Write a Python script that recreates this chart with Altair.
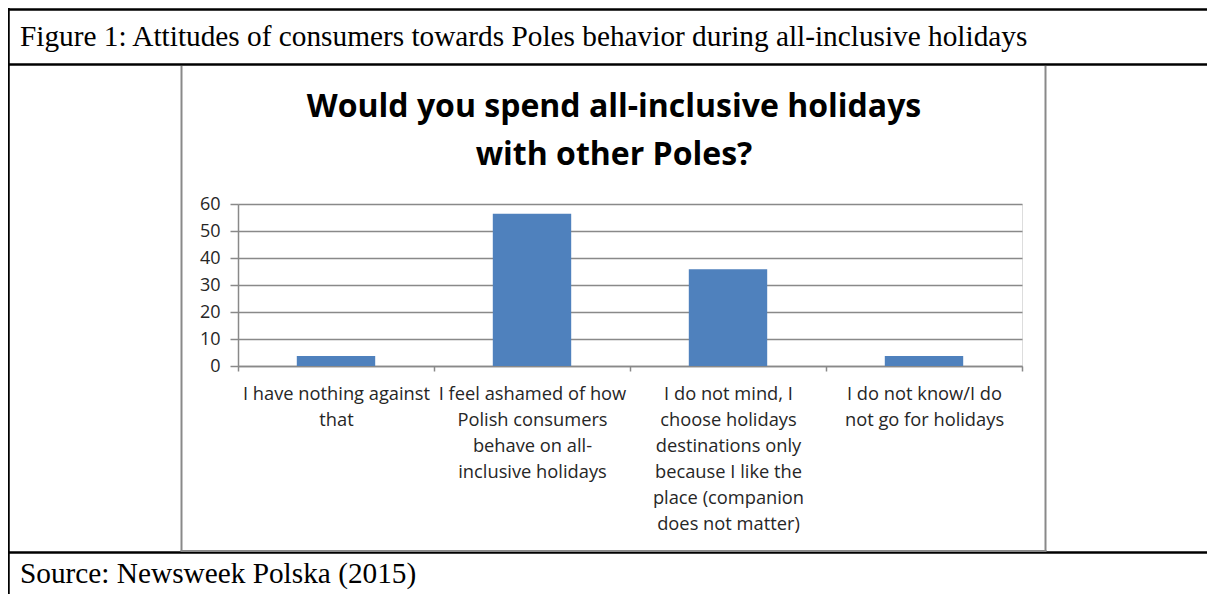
import altair as alt
import pandas as pd

# ---- data ----
categories = [
    "I have nothing against|that",
    "I feel ashamed of how|Polish consumers|behave on all-|inclusive holidays",
    "I do not mind, I|choose holidays|destinations only|because I like the|place (companion|does not matter)",
    "I do not know/I do|not go for holidays",
]
values = [3.7, 56.4, 35.8, 3.7]
y_ticks = [0, 10, 20, 30, 40, 50, 60]

chart_title = ["Would you spend all-inclusive holidays", "with other Poles?"]
caption = "Figure 1: Attitudes of consumers towards Poles behavior during all-inclusive holidays"
source = "Source: Newsweek Polska (2015)"

df = pd.DataFrame({"category": categories, "value": values})
one = pd.DataFrame({"k": [0]})

W, H = 784, 162
GRAY = "#898989"
TXT = "#262626"

bars = alt.Chart(df).mark_bar(width=alt.RelativeBandSize(0.4), color="#4F81BD").encode(
    x=alt.X("category:N", sort=None,
            scale=alt.Scale(paddingInner=0, paddingOuter=0),
            axis=alt.Axis(title=None, labelAngle=0,
                          labelExpr="isValid(datum.value) ? split(datum.value, '|') : ''",
                          labelLineHeight=26, labelFontSize=18.3, labelFont="Open Sans",
                          labelColor=TXT, labelLimit=400, labelOverlap=False,
                          labelBaseline="top", labelPadding=14,
                          tickBand="extent", tickSize=5, tickColor=GRAY, tickWidth=1.5,
                          domainColor=GRAY, domainWidth=1.5, grid=False)),
    y=alt.Y("value:Q", scale=alt.Scale(domain=[0, 60], nice=False),
            axis=alt.Axis(title=None, values=y_ticks, grid=True, gridColor=GRAY, gridWidth=1.5,
                          tickSize=8, tickColor=GRAY, tickWidth=1.5,
                          domainColor=GRAY, domainWidth=1.5,
                          labelFontSize=18, labelFont="Open Sans", labelColor=TXT, labelPadding=10)),
)

def hline(y, x1, x2, color, w):
    return alt.Chart(one).mark_rule(color=color, strokeWidth=w).encode(
        x=alt.value(x1), x2=alt.value(x2), y=alt.value(y))

def vline(x, y1, y2, color, w):
    return alt.Chart(one).mark_rule(color=color, strokeWidth=w).encode(
        x=alt.value(x), y=alt.value(y1), y2=alt.value(y2))

def text(s, x, y, font, size, weight="normal", align="left", color="black"):
    return alt.Chart(one).mark_text(font=font, fontSize=size, fontWeight=weight, align=align,
                                    baseline="alphabetic", color=color).encode(
        x=alt.value(x), y=alt.value(y), text=alt.value(s))

# plot origin is at page (238, 204)
deco = [
    # outer table lines
    hline(-194.5, -230, 1000, "black", 2.5),
    hline(-139.5, -230, 1000, "black", 2.5),
    hline(348.5, -230, 1000, "black", 2.5),
    vline(-229.5, -196, 400, "black", 2.5),
    # inner chart box
    vline(-56.5, -138, 347, GRAY, 2),
    vline(807.5, -138, 347, GRAY, 2),
    hline(347, -57.5, 808.5, GRAY, 2),
    # caption and source
    text(caption, -218, -158, "Liberation Serif", 29.3),
    text(source, -218, 379, "Liberation Serif", 29.3),
    # chart title
    text(chart_title[0], 376, -87, "Open Sans", 32, "bold", "center", "black"),
    text(chart_title[1], 376, -39, "Open Sans", 32, "bold", "center", "black"),
]

chart = alt.layer(bars, *deco).properties(
    width=W, height=H,
    autosize=alt.AutoSizeParams(type="none"),
    padding={"left": 230, "top": 196, "right": 185, "bottom": 228},
).configure_view(stroke=None).configure(background="white")

chart.save("out.html", embed_options={"renderer": "svg", "actions": False})
